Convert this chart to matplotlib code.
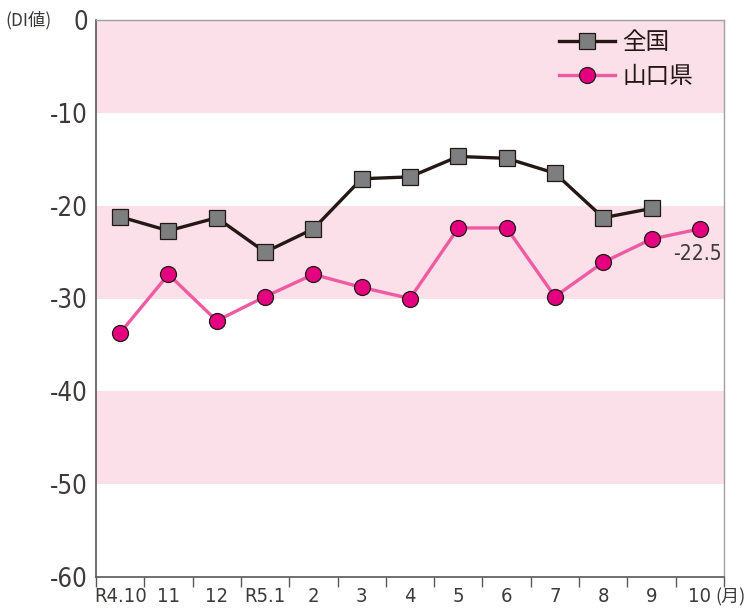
import matplotlib
matplotlib.use("Agg")
import matplotlib.pyplot as plt
import numpy as np
from matplotlib import font_manager

plt.rcParams['font.family'] = ['Noto Sans CJK JP', 'DejaVu Sans']
names = {f.name for f in font_manager.fontManager.ttflist}
NUM = ['Liberation Sans Narrow', 'Noto Sans CJK JP'] if 'Liberation Sans Narrow' in names else ['DejaVu Sans', 'Noto Sans CJK JP']
NUMSTRETCH = 'normal' if 'Liberation Sans Narrow' in names else 'condensed'

categories = ["R4.10", "11", "12", "R5.1", "2", "3", "4", "5", "6", "7", "8", "9", "10"]
national = [-21.2, -22.7, -21.3, -25.0, -22.5, -17.1, -16.9, -14.7, -14.9, -16.5, -21.3, -20.3, None]
yamaguchi = [-33.7, -27.4, -32.4, -29.8, -27.4, -28.8, -30.0, -22.4, -22.4, -29.8, -26.1, -23.6, -22.5]
yticks = [0, -10, -20, -30, -40, -50, -60]
bands = [(-10, 0), (-30, -20), (-50, -40)]

fig = plt.figure(figsize=(7.48, 6.10), dpi=100)
ax = fig.add_axes([96/748, 33/610, 628/748, 557/610])

x = np.arange(len(categories))
for lo, hi in bands:
    ax.axhspan(lo, hi, color='#fbdfe9', lw=0, zorder=0)

nx = [i for i, v in enumerate(national) if v is not None]
nv = [v for v in national if v is not None]
ax.plot(nx, nv, color='#231815', lw=2.4, marker='s', markersize=12,
        markerfacecolor='#7d7e80', markeredgecolor='#231815', markeredgewidth=0.9,
        label='全国', zorder=3)
ax.plot(x, yamaguchi, color='#ef5aa1', lw=2.4, marker='o', markersize=11.5,
        markerfacecolor='#e4007f', markeredgecolor='#231815', markeredgewidth=0.9,
        label='山口県', zorder=4)

ax.annotate(f"{yamaguchi[-1]}", (x[-1], yamaguchi[-1]), xytext=(-2, -11),
            textcoords='offset points', ha='center', va='top', fontsize=15,
            family=NUM, fontstretch=NUMSTRETCH, color='#3e3a39')

ax.set_xlim(-0.5, len(categories) - 0.5)
ax.set_ylim(-60, 0)
ax.set_yticks(yticks)
ax.set_yticklabels([str(v) for v in yticks], fontsize=18.5, color='#3e3a39',
                   family=NUM, fontstretch=NUMSTRETCH)
ax.set_xticks(x)
ax.set_xticklabels(categories, fontsize=14.5, color='#3e3a39',
                   family=NUM, fontstretch=NUMSTRETCH)
ax.tick_params(axis='x', which='major', length=0, pad=7)
ax.set_xticks(np.arange(-0.5, len(categories)), minor=True)
ax.tick_params(axis='x', which='minor', length=7, width=1, color='#595757', direction='out')
ax.tick_params(axis='y', length=0, pad=6)

for s in ['left', 'bottom']:
    ax.spines[s].set_color('#595757')
    ax.spines[s].set_linewidth(1.2)
for s in ['top', 'right']:
    ax.spines[s].set_color('#9fa0a0')
    ax.spines[s].set_linewidth(1.0)

fig.text(5/748, 1 - 20/610, "(DI値)", fontsize=12.5, color='#3e3a39', va='center', ha='left')
fig.text(746/748, 13/610, "(月)", fontsize=13, color='#3e3a39', va='center', ha='right')

leg = ax.legend(loc='upper right', bbox_to_anchor=(0.985, 1.018), frameon=False,
                fontsize=17, handlelength=2.4, labelspacing=0.45, handletextpad=0.3)
for t in leg.get_texts():
    t.set_color('#231815')

fig.savefig("out.png", dpi=100)
